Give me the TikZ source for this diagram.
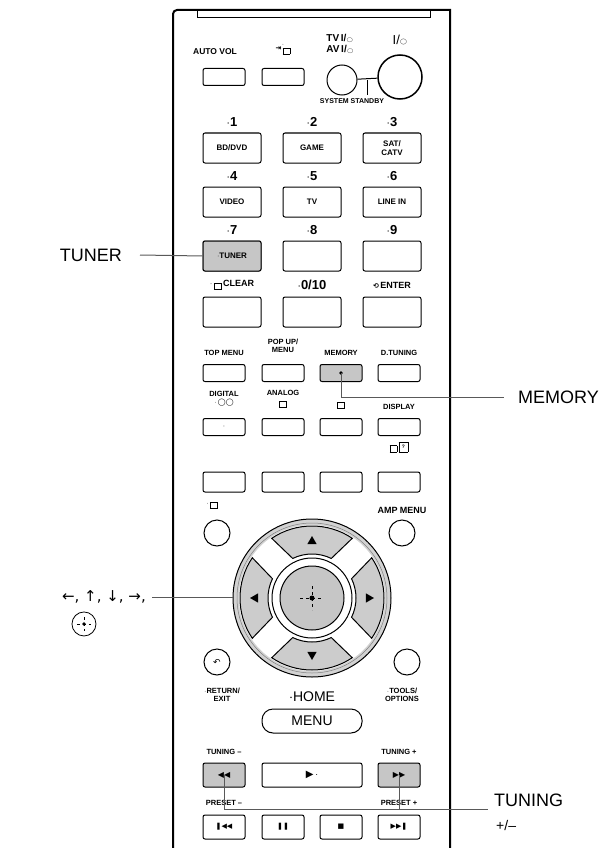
\documentclass[tikz,border=0pt]{standalone}
\usepackage{fontspec}
\setmainfont{Liberation Sans}
\newfontfamily\symfont{DejaVu Sans}
\usetikzlibrary{positioning, calc}
\tikzset{
	key/.style={draw, line width=1pt, rounded corners=2pt, minimum width=58pt, minimum height=30pt, inner sep=0pt, font=\fontsize{8}{8}\selectfont\bfseries},
	small key/.style={key, minimum width=42pt, minimum height=17pt},
	lbl/.style={font=\fontsize{7.5}{8}\selectfont\bfseries, inner sep=0pt, align=center},
	num/.style={font=\fontsize{13}{13}\selectfont\bfseries, inner sep=0pt},
	callout/.style={font=\fontsize{18}{18}\selectfont, inner sep=0pt},
	leader/.style={line width=1pt, gray!70!black},
	pressed/.style={fill=gray!45},
}
\newcommand{\pwrsym}{I/\raisebox{0.1ex}{$\scriptscriptstyle\bigcirc$}}
\begin{document}
\begin{tikzpicture}[x=1pt, y=-1pt]
	\useasboundingbox (0,0) rectangle (615,848);
	% body of the remote
	\draw[line width=2pt] (173,848) -- (173,16) to[rounded corners=4pt] (173,10) -- (450,10) to[rounded corners=4pt] (450,16) -- (450,848);
	\draw[line width=1pt] (197,11) -- (197,18) -- (430,18) -- (430,11);

	% top row
	\node[lbl, font=\fontsize{8.5}{9}\selectfont\bfseries] at (215,52) {AUTO VOL};
	\node[lbl] at (283,49) {$\cdot$\\[-4pt]{\symfont\scriptsize ⇥}\,\fbox{\tiny\,}};
	\node[small key] (autovol) at (224,77) {};
	\node[small key] (input) at (283,77) {};
	\node[lbl, font=\fontsize{10}{11}\selectfont\bfseries, align=left] at (340,44) {TV\,\pwrsym\\AV\,\pwrsym};
	\node[lbl, font=\fontsize{13}{13}\selectfont] at (400,40) {\pwrsym};
	\node[draw, circle, line width=1pt, minimum size=30pt] (avpower) at (342,80) {};
	\node[draw, circle, line width=1.5pt, minimum size=44pt] (power) at (400,77) {};
	\draw[line width=1pt] (avpower) -- (power);
	\draw[line width=0.6pt] (367,80) -- (367,95);
	\node[lbl, font=\fontsize{7}{7}\selectfont\bfseries] at (352,101) {SYSTEM STANDBY};

	% number keys
	\foreach \n/\t/\c/\r in {1/{BD/DVD}/1/1, 2/GAME/2/1, 3/{\shortstack{SAT/\\CATV}}/3/1,
		4/VIDEO/1/2, 5/TV/2/2, 6/LINE IN/3/2,
		7/{}/1/3, 8/{}/2/3, 9/{}/3/3} {
		\node[key] (k\n) at ({232+80*(\c-1)},{148+54*(\r-1)}) {\t};
		\node[num] at ({232+80*(\c-1)},{122+54*(\r-1)}) {$\cdot$\n};
	}
	\fill[gray!45, rounded corners=2pt] (k7.south west) rectangle (k7.north east);
	\node[key] at (k7) {$\cdot$TUNER};
	\node[lbl, font=\fontsize{9}{9}\selectfont\bfseries] at (232,285) {$\cdot$\,\fbox{\tiny\,}\,CLEAR};
	\node[num] at (312,285) {$\cdot$0/10};
	\node[lbl, font=\fontsize{9}{9}\selectfont\bfseries] at (392,285) {{\symfont\scriptsize ⟲}\,ENTER};
	\node[key] (clear) at (232,312) {};
	\node[key] (ten) at (312,312) {};
	\node[key] (enter) at (392,312) {};

	% menu rows
	\node[lbl] at (224,353) {TOP MENU};
	\node[lbl] at (283,346) {POP UP/\\MENU};
	\node[lbl] at (341,353) {MEMORY};
	\node[lbl] at (399,353) {D.TUNING};
	\node[small key] (topmenu) at (224,373) {};
	\node[small key] (popup) at (283,373) {};
	\node[small key, pressed] (memory) at (341,373) {};
	\node[small key] (dtuning) at (399,373) {};
	\fill (memory.center) circle (1.8pt);

	\node[lbl] at (224,399) {DIGITAL\\$\cdot$\,{\symfont\scriptsize ◯◯}};
	\node[lbl] at (283,399) {ANALOG\\\fbox{\tiny\,}};
	\node[lbl] at (341,405) {\fbox{\tiny\,}};
	\node[lbl] at (399,407) {DISPLAY};
	\node[small key] (digital) at (224,427) {$\cdot$};
	\node[small key] (analog) at (283,427) {};
	\node[small key] (theatre) at (341,427) {};
	\node[small key] (display) at (399,427) {};
	\node[lbl] at (399,447) {\fbox{\tiny\,}\,\fbox{\tiny ?}};

	\foreach \x/\m in {224/a, 283/b, 341/c, 399/d}
		\node[small key, minimum height=20pt] (blank\m) at (\x,482) {};

	\node[lbl] at (212,505) {$\cdot$\,\fbox{\tiny\,}};
	\node[lbl, font=\fontsize{9}{9}\selectfont\bfseries] at (402,510) {AMP MENU};
	\node[draw, circle, line width=1pt, minimum size=26pt] (options) at (217,533) {};
	\node[draw, circle, line width=1pt, minimum size=26pt] (ampmenu) at (402,533) {};

	% cursor pad
	\coordinate (pad) at (312,598);
	\fill[gray!35] (pad) circle (79);
	\draw[line width=1pt] (pad) circle (79);
	\draw[line width=0.5pt, gray] (pad) circle (75);
	\fill[white] (pad) circle (73);
	\foreach \a in {0,90,180,270} {
		\fill[gray!40, draw=black, line width=1pt] ($(pad)+(\a-34:72)$) arc[start angle=\a-34, end angle=\a+34, radius=72]
			-- ($(pad)+(\a+26:44)$) arc[start angle=\a+26, end angle=\a-26, radius=44] -- cycle;
		\fill ($(pad)+(\a:62)$) -- ($(pad)+(\a+5:54)$) -- ($(pad)+(\a-5:54)$) -- cycle;
	}
	\draw[line width=1pt] (pad) circle (40);
	\node[draw, circle, line width=1pt, pressed, minimum size=64pt] (enterkey) at (pad) {};
	\draw[line width=0.5pt, dashed] ($(pad)+(-12,0)$) -- ($(pad)+(12,0)$) ($(pad)+(0,-12)$) -- ($(pad)+(0,12)$);
	\fill (pad) circle (2.5pt);

	% bottom part
	\node[draw, circle, line width=1pt, minimum size=26pt] (return) at (217,662) {\symfont\small ↶};
	\node[draw, circle, line width=1pt, minimum size=26pt] (tools) at (407,662) {};
	\node[lbl] at (222,695) {$\cdot$RETURN/\\EXIT};
	\node[lbl] at (402,695) {$\cdot$TOOLS/\\OPTIONS};
	\node[font=\fontsize{14}{14}\selectfont, inner sep=0pt] at (312,697) {$\cdot$HOME};
	\node[draw, line width=1pt, rounded corners=11pt, minimum width=100pt, minimum height=24pt, font=\fontsize{14}{14}\selectfont] (menu) at (312,721) {MENU};

	\node[lbl] at (224,752) {TUNING --};
	\node[lbl] at (399,752) {TUNING +};
	\node[small key, pressed, minimum height=24pt] (tunminus) at (224,775) {\symfont\footnotesize ◀◀};
	\node[small key, minimum width=100pt, minimum height=24pt] (play) at (312,775) {\symfont\normalsize ▶\,$\cdot$};
	\node[small key, pressed, minimum height=24pt] (tunplus) at (399,775) {\symfont\footnotesize ▶▶};
	\node[lbl] at (224,803) {PRESET --};
	\node[lbl] at (399,803) {PRESET +};
	\node[small key, minimum height=24pt] (prev) at (224,827) {\symfont\scriptsize ❚◀◀};
	\node[small key, minimum height=24pt] (pause) at (283,827) {\symfont\scriptsize ❚❚};
	\node[small key, minimum height=24pt] (stop) at (341,827) {\symfont\scriptsize ■};
	\node[small key, minimum height=24pt] (next) at (399,827) {\symfont\scriptsize ▶▶❚};

	% callouts
	\node[callout, anchor=east] (tunerlbl) at (122,255) {TUNER};
	\draw[leader] (tunerlbl.east) ++(18,0) -- (k7.west);
	\node[callout, anchor=west] (memorylbl) at (518,397) {MEMORY};
	\draw[leader] (memory.center) |- ($(memorylbl.west)+(-14,0)$);
	\node[callout, anchor=east, font=\symfont\fontsize{15}{15}\selectfont] (arrowlbl) at (146,597) {←, ↑, ↓, →,};
	\node[draw, circle, line width=0.8pt, minimum size=24pt, below=8pt of arrowlbl.south, xshift=-20pt] (centerlbl) {};
	\draw[line width=0.4pt, dashed] ($(centerlbl)+(-7,0)$) -- ($(centerlbl)+(7,0)$) ($(centerlbl)+(0,-7)$) -- ($(centerlbl)+(0,7)$);
	\fill (centerlbl) circle (1.8pt);
	\coordinate (padleft) at (233,597);
	\draw[leader] (arrowlbl.east) ++(6,0) -- (padleft);
	\node[callout, anchor=west] (tuninglbl) at (494,800) {TUNING};
	\node[callout, anchor=north west, font=\fontsize{14}{14}\selectfont] (pmlbl) at (496,820) {+/--};
	\coordinate (tunjoin) at (488,809);
	\draw[leader] (tunminus.center) -- ++(0,34) -| (tunplus.center);
	\draw[leader] ($(tunminus.center)+(0,34)$) -- (tunjoin);
\end{tikzpicture}
\end{document}
